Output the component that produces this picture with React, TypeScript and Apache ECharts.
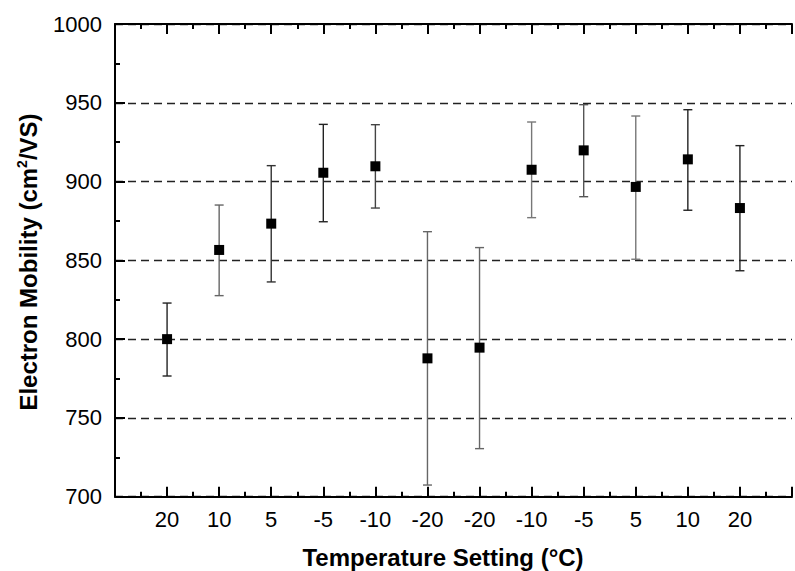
import React, { useEffect, useRef } from "react";
import * as echarts from "echarts";

const categories = ["20", "10", "5", "-5", "-10", "-20", "-20", "-10", "-5", "5", "10", "20"];
const mobility = [800.0, 856.6, 873.3, 905.6, 909.7, 787.8, 794.6, 907.5, 919.8, 896.6, 914.1, 883.2];
const errLow = [776.6, 827.6, 836.3, 874.5, 883.2, 707.4, 730.5, 877.1, 890.4, 850.7, 881.8, 843.4];
const errHigh = [822.9, 885.1, 910.1, 936.3, 936.1, 868.2, 858.1, 937.8, 948.8, 941.6, 945.6, 922.8];
const yTicks = [700, 750, 800, 850, 900, 950, 1000];

const barColors = ["#222", "#666", "#333", "#222", "#444", "#666", "#666", "#777", "#555", "#777", "#222", "#222"];

const FONT = "'Liberation Sans', Arial, Helvetica, sans-serif";

export default function App() {
  const ref = useRef<HTMLDivElement>(null);
  useEffect(() => {
    if (!ref.current) return;
    const chart = echarts.init(ref.current, null, { renderer: "svg" });
    const pts = categories.map((_, i) => [i + 1, mobility[i]]);
    const errs = categories.map((_, i) => [i + 1, errLow[i], errHigh[i]]);
    const commonX = {
      type: "value" as const,
      min: 0,
      max: 13,
      interval: 1,
      splitLine: { show: false },
      axisLine: { show: true, onZero: false, lineStyle: { color: "#000", width: 2 } },
      axisTick: { show: true, inside: true, length: 10, lineStyle: { color: "#000", width: 2 } },
      minorTick: { show: true, splitNumber: 2, length: 5, lineStyle: { color: "#000", width: 2 } },
    };
    chart.setOption({
      animation: false,
      backgroundColor: "#fff",
      grid: { left: 115, top: 24, width: 688, height: 472.7, containLabel: false },
      xAxis: [
        {
          ...commonX,
          position: "bottom",
          axisLabel: {
            show: true,
            margin: 12,
            fontSize: 22,
            fontFamily: FONT,
            color: "#000",
            formatter: (v: number) => (v >= 1 && v <= categories.length ? categories[v - 1] : ""),
          },
        },
        {
          ...commonX,
          position: "top",
          axisLabel: { show: false },
        },
      ],
      yAxis: {
        type: "value",
        min: yTicks[0],
        max: yTicks[yTicks.length - 1],
        interval: 50,
        axisLine: { show: true, onZero: false, lineStyle: { color: "#000", width: 2 } },
        axisTick: { show: true, inside: true, length: 10, lineStyle: { color: "#000", width: 2 } },
        minorTick: { show: true, splitNumber: 2, length: 5, lineStyle: { color: "#000", width: 2 } },
        axisLabel: { margin: 13, fontSize: 22, fontFamily: FONT, color: "#000", formatter: (v: number) => String(v) },
        splitLine: {
          show: true,
          lineStyle: { color: "#222", width: 1.4, type: [8, 5] },
        },
      },
      graphic: [
        {
          type: "text",
          x: 443,
          y: 557,
          style: {
            text: "Temperature Setting (°C)",
            font: `bold 24px ${FONT}`,
            fill: "#000",
            align: "center",
            verticalAlign: "middle",
          },
        },
        {
          type: "text",
          x: 28,
          y: 262,
          rotation: Math.PI / 2,
          style: {
            text: "Electron Mobility (cm{sup|2}/VS)",
            font: `bold 24px ${FONT}`,
            fill: "#000",
            align: "center",
            verticalAlign: "middle",
            rich: {
              sup: { fontSize: 14, fontWeight: "bold", fontFamily: FONT, verticalAlign: "top", padding: [0, 0, 12, 0] },
            },
          },
        },
      ],
      series: [
        {
          type: "custom",
          xAxisIndex: 0,
          yAxisIndex: 0,
          data: errs,
          z: 2,
          renderItem: (params: any, api: any) => {
            const x = api.value(0);
            const lo = api.coord([x, api.value(1)]);
            const hi = api.coord([x, api.value(2)]);
            const c = barColors[params.dataIndex] || "#333";
            const w = 4.5;
            const ls = { stroke: c, lineWidth: 1.4 };
            return {
              type: "group",
              children: [
                { type: "line", shape: { x1: lo[0], y1: lo[1], x2: hi[0], y2: hi[1] }, style: ls },
                { type: "line", shape: { x1: lo[0] - w, y1: lo[1], x2: lo[0] + w, y2: lo[1] }, style: ls },
                { type: "line", shape: { x1: hi[0] - w, y1: hi[1], x2: hi[0] + w, y2: hi[1] }, style: ls },
              ],
            };
          },
        },
        {
          type: "scatter",
          data: pts,
          symbol: "rect",
          symbolSize: 10,
          itemStyle: { color: "#000", opacity: 1 },
          z: 3,
        },
      ],
    });
    return () => chart.dispose();
  }, []);
  return (
    <div
      ref={ref}
      style={{ position: "fixed", left: 0, top: 0, width: 795, height: 571, background: "#fff" }}
    />
  );
}
